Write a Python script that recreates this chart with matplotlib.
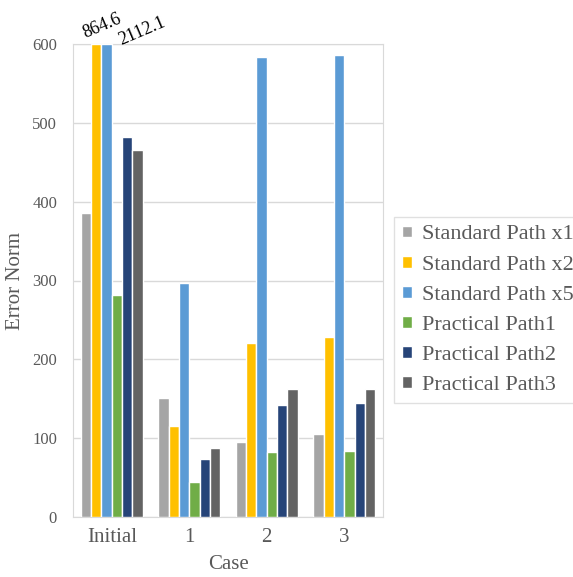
import numpy as np
import matplotlib.pyplot as plt

plt.rcParams['font.family'] = ['Liberation Serif', 'DejaVu Serif']

cases = ["Initial", "1", "2", "3"]
series = ["Standard Path x1", "Standard Path x2", "Standard Path x5",
          "Practical Path1", "Practical Path2", "Practical Path3"]
std_x1 = [385, 151, 95, 105]
std_x2 = [864.6, 115, 221, 228]
std_x5 = [2112.1, 297, 584, 586]
prac1 = [281, 45, 82, 84]
prac2 = [482, 74, 142, 144]
prac3 = [465, 88, 162, 163]
values = [std_x1, std_x2, std_x5, prac1, prac2, prac3]
colors = ["#A5A5A5", "#FFC000", "#5B9BD5", "#70AD47", "#264478", "#636363"]

ymax = 600
txt = "#595959"

fig = plt.figure(figsize=(5.73, 5.77), dpi=100)
ax = fig.add_axes([73/573, 1-517/577, (383-73)/573, (517-44)/577])

x = np.arange(len(cases))
w = 0.133
for i, (vals, c, name) in enumerate(zip(values, colors, series)):
    pos = x + (i - 2.5)*w
    ax.bar(pos, np.minimum(vals, ymax), width=w, color=c, edgecolor="white",
           linewidth=1, label=name, zorder=3)

# labels for the bars that go off the top
offs = {1: (-11, 6), 2: (15, -1)}
for i, off in offs.items():
    v = values[i][0]
    if v > ymax:
        ax.annotate("%.1f" % v, xy=(x[0] + (i - 2.5)*w, ymax), xytext=off,
                    textcoords="offset pixels", rotation=23,
                    rotation_mode="anchor", ha="left", va="baseline",
                    fontsize=13, color="black", annotation_clip=False)

ax.set_xlim(-0.5, 3.5)
ax.set_ylim(0, ymax)
ax.set_yticks(range(0, 601, 100))
ax.set_xticks(x)
ax.set_xticklabels(cases)
ax.grid(axis="y", color="#d9d9d9", linewidth=1, zorder=0)
for s in ax.spines.values():
    s.set_color("#d9d9d9")
ax.tick_params(length=0, colors=txt, labelsize=12)
ax.tick_params(axis="x", pad=8, labelsize=15)
ax.tick_params(axis="y", pad=11.5)
ax.set_xlabel("Case", fontsize=15, color=txt, labelpad=6)
ax.set_ylabel("Error Norm", fontsize=15, color=txt, labelpad=5)

leg = fig.legend(loc="upper left", bbox_to_anchor=(394/573, 1-217/577),
                 fontsize=16, frameon=True, fancybox=False, handlelength=0.45,
                 handleheight=0.45, handletextpad=0.45, borderpad=0.38,
                 labelspacing=0.5, borderaxespad=0)
leg.get_frame().set_edgecolor("#d9d9d9")
for t in leg.get_texts():
    t.set_color(txt)

fig.savefig("out.png", dpi=100)
